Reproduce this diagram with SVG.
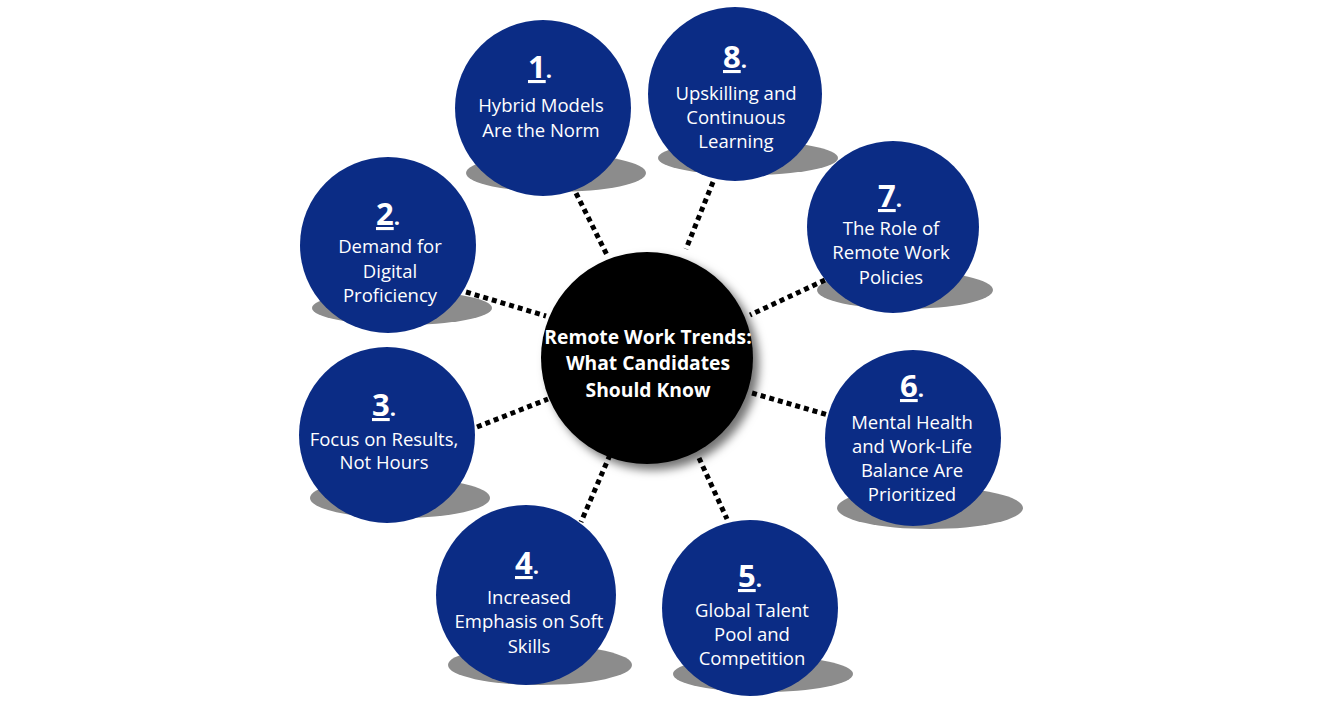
<svg xmlns="http://www.w3.org/2000/svg" width="1338" height="713" viewBox="0 0 1338 713">
<defs>
<filter id="ds" x="-30%" y="-30%" width="160%" height="160%">
<feDropShadow dx="6" dy="6" stdDeviation="5" flood-color="#000" flood-opacity="0.55"/>
</filter>
<style>
.bg{fill:#ffffff}
.shadow{fill:#8c8c8c}
.node{fill:#0b2c85}
.hub{fill:#000000}
.conn{stroke:#000;stroke-width:5;stroke-dasharray:5 4;fill:none}
.t{font-family:"Open Sans","Liberation Sans",sans-serif;font-size:18.5px;fill:#ffffff;text-anchor:middle}
.num{font-family:"Open Sans","Liberation Sans",sans-serif;font-size:31px;font-weight:700;fill:#ffffff;text-decoration:underline}
.dot{font-family:"Open Sans","Liberation Sans",sans-serif;font-size:22px;font-weight:700;fill:#ffffff}
.ht{font-family:"Open Sans","Liberation Sans",sans-serif;font-size:19.3px;font-weight:700;fill:#ffffff;text-anchor:middle}
</style>
</defs>
<rect class="bg" x="0" y="0" width="1338" height="713"/>

<g id="shadows">
<ellipse class="shadow" cx="556" cy="173" rx="90" ry="19"/>
<ellipse class="shadow" cx="748" cy="158" rx="90" ry="17"/>
<ellipse class="shadow" cx="402" cy="308" rx="90" ry="17"/>
<ellipse class="shadow" cx="905" cy="290" rx="88" ry="19"/>
<ellipse class="shadow" cx="400" cy="498" rx="90" ry="20"/>
<ellipse class="shadow" cx="930" cy="508" rx="93" ry="21"/>
<ellipse class="shadow" cx="540" cy="665" rx="92" ry="20"/>
<ellipse class="shadow" cx="763" cy="674" rx="90" ry="18"/>
</g>

<g id="connectors">
<line class="conn" x1="572" y1="185" x2="608" y2="257"/>
<line class="conn" x1="713" y1="182" x2="686" y2="249"/>
<line class="conn" x1="825" y1="280" x2="750" y2="315"/>
<line class="conn" x1="466" y1="292" x2="546" y2="316"/>
<line class="conn" x1="477" y1="427" x2="548" y2="399"/>
<line class="conn" x1="752" y1="393" x2="828" y2="415"/>
<line class="conn" x1="610" y1="455" x2="581" y2="522"/>
<line class="conn" x1="699" y1="458" x2="727" y2="519"/>
</g>

<g id="hub">
<circle class="hub" cx="647" cy="358" r="106" filter="url(#ds)"/>
<text class="ht" x="648" y="344">Remote Work Trends:</text>
<text class="ht" x="648" y="370">What Candidates</text>
<text class="ht" x="648" y="397">Should Know</text>
</g>

<g id="node1">
<circle class="node" cx="543" cy="108" r="88"/>
<text x="540" y="78" text-anchor="middle"><tspan class="num">1</tspan><tspan class="dot">.</tspan></text>
<text class="t" x="541" y="112">Hybrid Models</text>
<text class="t" x="541" y="137">Are the Norm</text>
</g>

<g id="node8">
<circle class="node" cx="735" cy="94" r="87"/>
<text x="735" y="68" text-anchor="middle"><tspan class="num">8</tspan><tspan class="dot">.</tspan></text>
<text class="t" x="736" y="100">Upskilling and</text>
<text class="t" x="736" y="124">Continuous</text>
<text class="t" x="736" y="148">Learning</text>
</g>

<g id="node2">
<circle class="node" cx="388" cy="245" r="88"/>
<text x="388" y="225" text-anchor="middle"><tspan class="num">2</tspan><tspan class="dot">.</tspan></text>
<text class="t" x="390" y="253">Demand for</text>
<text class="t" x="390" y="278">Digital</text>
<text class="t" x="390" y="302">Proficiency</text>
</g>

<g id="node7">
<circle class="node" cx="893" cy="227" r="86"/>
<text x="890" y="207" text-anchor="middle"><tspan class="num">7</tspan><tspan class="dot">.</tspan></text>
<text class="t" x="891" y="235">The Role of</text>
<text class="t" x="891" y="259">Remote Work</text>
<text class="t" x="891" y="284">Policies</text>
</g>

<g id="node3">
<circle class="node" cx="387" cy="435" r="88"/>
<text x="384" y="416" text-anchor="middle"><tspan class="num">3</tspan><tspan class="dot">.</tspan></text>
<text class="t" x="384" y="446">Focus on Results,</text>
<text class="t" x="384" y="469">Not Hours</text>
</g>

<g id="node6">
<circle class="node" cx="913" cy="438" r="88"/>
<text x="912" y="397" text-anchor="middle"><tspan class="num">6</tspan><tspan class="dot">.</tspan></text>
<text class="t" x="912" y="429">Mental Health</text>
<text class="t" x="912" y="453">and Work-Life</text>
<text class="t" x="912" y="477">Balance Are</text>
<text class="t" x="912" y="501">Prioritized</text>
</g>

<g id="node4">
<circle class="node" cx="526" cy="595" r="90"/>
<text x="527" y="574" text-anchor="middle"><tspan class="num">4</tspan><tspan class="dot">.</tspan></text>
<text class="t" x="529" y="604">Increased</text>
<text class="t" x="529" y="628">Emphasis on Soft</text>
<text class="t" x="529" y="653">Skills</text>
</g>

<g id="node5">
<circle class="node" cx="750" cy="608" r="88"/>
<text x="750" y="587" text-anchor="middle"><tspan class="num">5</tspan><tspan class="dot">.</tspan></text>
<text class="t" x="752" y="617">Global Talent</text>
<text class="t" x="752" y="641">Pool and</text>
<text class="t" x="752" y="665">Competition</text>
</g>
</svg>
